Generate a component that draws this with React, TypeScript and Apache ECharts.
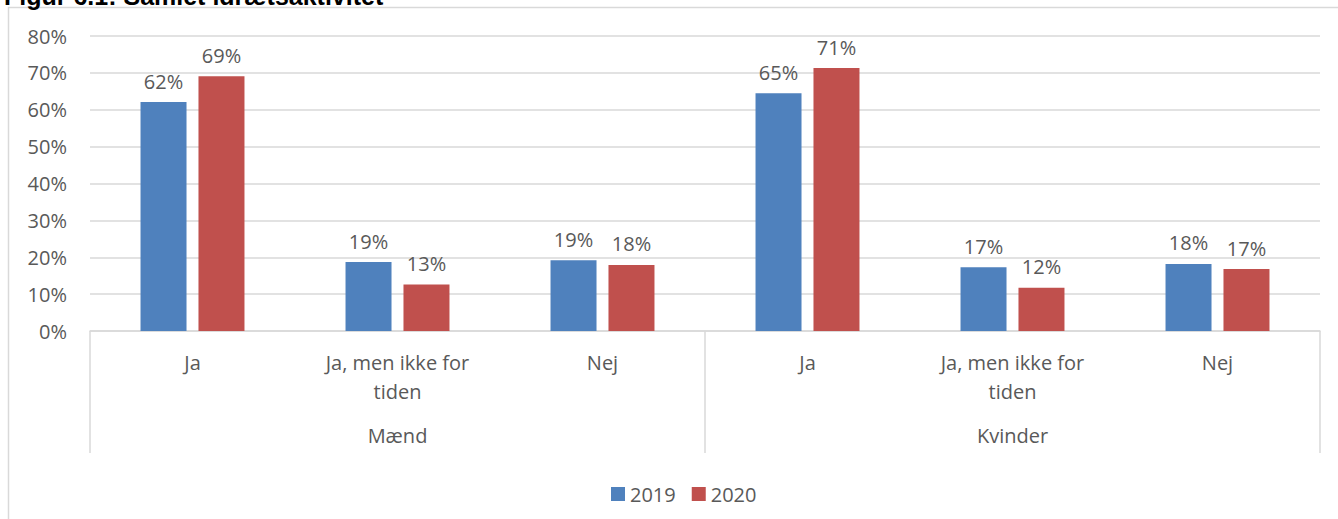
import React, { useEffect, useRef } from "react";
import * as echarts from "echarts";

const subCategories = ["Ja", "Ja, men ikke for\ntiden", "Nej", "Ja", "Ja, men ikke for\ntiden", "Nej"];
const groups = ["Mænd", "Kvinder"];
const values2019 = [62.1, 18.7, 19.2, 64.5, 17.3, 18.2];
const values2020 = [69.1, 12.6, 17.9, 71.3, 11.7, 16.8];
const yTicks = { min: 0, max: 80, interval: 10 };
const titleText = "Figur 6.1: Samlet idrætsaktivitet";

const FONT = "'Open Sans', 'Noto Sans', sans-serif";
const TEXT = "#595959";
const LINE = "#d9d9d9";

export default function App() {
  const ref = useRef<HTMLDivElement>(null);
  useEffect(() => {
    if (!ref.current) return;
    const chart = echarts.init(ref.current, undefined, { renderer: "svg" });
    const label = {
      show: true,
      position: "top",
      distance: 11,
      color: TEXT,
      fontFamily: FONT,
      fontSize: 20,
      formatter: (p: any) => Math.round(p.value) + "%",
    };
    chart.setOption({
      animation: false,
      backgroundColor: "#ffffff",
      textStyle: { fontFamily: FONT, color: TEXT },
      graphic: [
        {
          type: "rect",
          z: -10,
          shape: { x: 8.5, y: 7.5, width: 1400, height: 600 },
          style: { fill: "none", stroke: LINE, lineWidth: 1.5 },
        },
        {
          type: "text",
          x: 4,
          y: 8,
          style: {
            text: titleText,
            fill: "#000000",
            font: "bold 25px 'Liberation Sans', Arial, sans-serif",
            verticalAlign: "bottom",
          },
        },
      ],
      grid: { left: 90, right: 18, top: 36, bottom: 188, containLabel: false },
      legend: {
        left: 606,
        top: 479,
        icon: "rect",
        itemWidth: 14,
        itemHeight: 14,
        itemGap: 16,
        textStyle: { color: TEXT, fontFamily: FONT, fontSize: 20 },
        data: ["2019", "2020"],
      },
      xAxis: [
        {
          type: "category",
          data: subCategories,
          axisLine: { show: true, lineStyle: { color: LINE, width: 1.5 } },
          axisTick: { show: false },
          axisLabel: {
            interval: 0,
            color: TEXT,
            fontFamily: FONT,
            fontSize: 20,
            lineHeight: 29,
            margin: 17,
          },
        },
        {
          type: "category",
          data: groups,
          position: "bottom",
          axisLine: { show: false },
          axisTick: {
            show: true,
            interval: 0,
            length: 122,
            lineStyle: { color: LINE, width: 1.5 },
          },
          axisLabel: {
            interval: 0,
            color: TEXT,
            fontFamily: FONT,
            fontSize: 20,
            margin: 94,
          },
        },
      ],
      yAxis: {
        type: "value",
        min: yTicks.min,
        max: yTicks.max,
        interval: yTicks.interval,
        axisLine: { show: false },
        axisTick: { show: false },
        splitLine: { lineStyle: { color: LINE, width: 1.5 } },
        axisLabel: {
          color: TEXT,
          fontFamily: FONT,
          fontSize: 20,
          margin: 23,
          formatter: "{value}%",
        },
      },
      series: [
        {
          name: "2019",
          type: "bar",
          xAxisIndex: 0,
          data: values2019,
          barWidth: 46,
          barGap: "26%",
          itemStyle: { color: "#4F81BD" },
          label,
        },
        {
          name: "2020",
          type: "bar",
          xAxisIndex: 0,
          data: values2020,
          barWidth: 46,
          barGap: "26%",
          itemStyle: { color: "#C0504D" },
          label,
        },
      ],
    });
    return () => chart.dispose();
  }, []);
  return (
    <div
      ref={ref}
      style={{ position: "fixed", left: 0, top: 0, width: 1338, height: 519 }}
    />
  );
}
